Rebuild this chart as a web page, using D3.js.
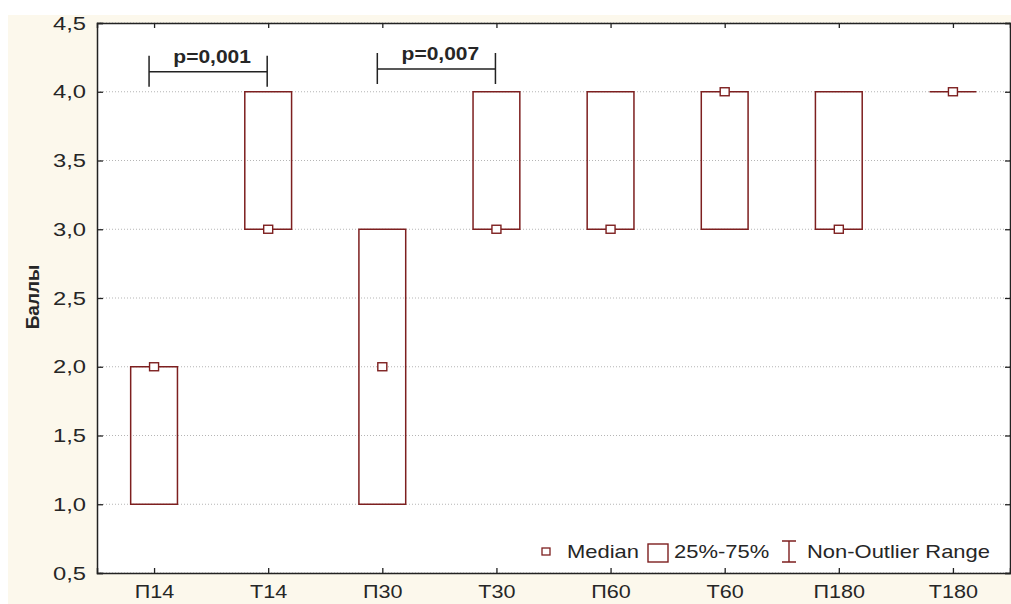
<!DOCTYPE html>
<html>
<head>
<meta charset="utf-8">
<script src="https://d3js.org/d3.v7.min.js"></script>
<style>
  body { margin: 0; background: #fff; }
  svg { display: block; }
  text { font-family: "Liberation Sans", Arial, sans-serif; fill: #262626; }
</style>
</head>
<body>
<div id="chart"></div>
<script>
// data
var categories = ["П14", "Т14", "П30", "Т30", "П60", "Т60", "П180", "Т180"];
var q1Values = [1, 3, 1, 3, 3, 3, 3, 4];
var q3Values = [2, 4, 3, 4, 4, 4, 4, 4];
var medianValues = [2, 3, 2, 3, 3, 4, 3, 4];
var yTicks = [0.5, 1.0, 1.5, 2.0, 2.5, 3.0, 3.5, 4.0, 4.5];
var comparisons = [
  { from: "П14", to: "Т14", label: "p=0,001", level: 4.145 },
  { from: "П30", to: "Т30", label: "p=0,007", level: 4.165 }
];
var legendItems = ["Median", "25%-75%", "Non-Outlier Range"];

window.onload = function() {
  drawChart();
};

function drawChart() {
  var width = 1011;
  var height = 604;
  var margin = { top: 23, right: 1, bottom: 31, left: 97 };
  var boxColor = "#7d1f1f";
  var stretch = 1.2;

  var svg = d3.select("#chart")
              .append("svg")
              .attr("width", width)
              .attr("height", height);

  // cream background and white plot area
  svg.append("rect")
     .attr("x", 8).attr("y", 15)
     .attr("width", width - 8).attr("height", height - 15)
     .attr("fill", "#fcf8ec");

  var x = d3.scalePoint()
            .domain(categories)
            .range([margin.left, width - margin.right])
            .padding(0.5);
  var y = d3.scaleLinear()
            .domain([0.5, 4.5])
            .range([height - margin.bottom, margin.top]);

  svg.append("rect")
     .attr("x", margin.left).attr("y", margin.top)
     .attr("width", width - margin.right - margin.left)
     .attr("height", height - margin.bottom - margin.top)
     .attr("fill", "#fff");

  var locale = d3.formatLocale({ decimal: ",", thousands: " ", grouping: [3], currency: ["", ""] });
  var fmt = locale.format(".1f");

  // dotted grid
  svg.append("g")
     .selectAll("line")
     .data(yTicks)
     .enter()
     .append("line")
     .attr("x1", margin.left)
     .attr("x2", width - margin.right)
     .attr("y1", function(d) { return y(d); })
     .attr("y2", function(d) { return y(d); })
     .attr("stroke", "#b5b5b5")
     .attr("stroke-width", 1)
     .attr("stroke-dasharray", "1,2");

  // axes
  var left = svg.append("g")
     .attr("transform", "translate(" + margin.left + ",0)")
     .call(d3.axisLeft(y).tickValues(yTicks).tickFormat(fmt).tickSize(-6));
  left.selectAll("text")
      .attr("x", 0)
      .attr("transform", "translate(-11,0) scale(1.25,1)")
      .style("font-size", "19px");

  var bottom = svg.append("g")
     .attr("transform", "translate(0," + (height - margin.bottom) + ")")
     .call(d3.axisBottom(x).tickSize(-5));
  bottom.selectAll("text")
        .attr("y", 12)
        .attr("transform", "scale(" + stretch + ",1)")
        .style("font-size", "18px");

  svg.append("g")
     .attr("transform", "translate(0," + margin.top + ")")
     .call(d3.axisTop(x).tickSize(-5).tickFormat(""));
  svg.append("g")
     .attr("transform", "translate(" + (width - margin.right) + ",0)")
     .call(d3.axisRight(y).tickValues(yTicks).tickSize(-5).tickFormat(""));

  svg.selectAll(".domain, .tick line")
     .attr("stroke", "#222")
     .attr("stroke-width", 1.5);
  svg.selectAll(".tick line").attr("stroke-width", 1.3);

  // boxes (drawn as paths so a zero-height box still shows as a line)
  var boxWidth = x.step() * 0.41;
  var rows = categories.map(function(c, i) {
    return { cat: c, q1: q1Values[i], q3: q3Values[i], med: medianValues[i] };
  });

  svg.append("g")
     .selectAll("path")
     .data(rows)
     .enter()
     .append("path")
     .attr("d", function(d) {
       var x0 = x(d.cat) - boxWidth / 2, x1 = x(d.cat) + boxWidth / 2;
       return "M" + x0 + "," + y(d.q3) + "H" + x1 + "V" + y(d.q1) + "H" + x0 + "Z";
     })
     .attr("fill", "none")
     .attr("stroke", boxColor)
     .attr("stroke-width", 1.5);

  svg.append("g")
     .selectAll("rect")
     .data(rows)
     .enter()
     .append("rect")
     .attr("x", function(d) { return x(d.cat) - 4.5; })
     .attr("y", function(d) { return y(d.med) - 4; })
     .attr("width", 9)
     .attr("height", 8)
     .attr("fill", "#fff")
     .attr("stroke", boxColor)
     .attr("stroke-width", 1.4);

  // significance brackets
  var br = svg.append("g").selectAll("g")
     .data(comparisons)
     .enter()
     .append("g");
  br.append("path")
    .attr("d", function(d) {
      var x1 = x(d.from) - 5, x2 = x(d.to) - 1, yy = y(d.level);
      return "M" + x1 + "," + (yy - 16) + "V" + (yy + 15) +
             "M" + x1 + "," + yy + "H" + x2 +
             "M" + x2 + "," + (yy - 16) + "V" + (yy + 15);
    })
    .attr("fill", "none")
    .attr("stroke", "#222")
    .attr("stroke-width", 1.5);
  br.append("text")
    .attr("transform", function(d) {
      var cx = (x(d.from) + x(d.to)) / 2 + 1;
      return "translate(" + cx + "," + (y(d.level) - 9) + ") scale(" + stretch + ",1)";
    })
    .attr("text-anchor", "middle")
    .style("font-size", "17.5px")
    .style("font-weight", "bold")
    .text(function(d) { return d.label; });

  // legend
  var lg = svg.append("g").attr("transform", "translate(0,552)");
  lg.append("rect")
    .attr("x", 542).attr("y", -4).attr("width", 8).attr("height", 7)
    .attr("fill", "#fff").attr("stroke", boxColor).attr("stroke-width", 1.3);
  lg.append("rect")
    .attr("x", 648).attr("y", -8).attr("width", 20).attr("height", 18)
    .attr("fill", "#fff").attr("stroke", boxColor).attr("stroke-width", 1.4);
  lg.append("path")
    .attr("d", "M782,-11H796M789,-11V10M782,10H796")
    .attr("fill", "none").attr("stroke", boxColor).attr("stroke-width", 1.4);
  var legendX = [567, 674, 807];
  lg.selectAll("text")
    .data(legendItems)
    .enter()
    .append("text")
    .attr("transform", function(d, i) {
      return "translate(" + legendX[i] + ",6) scale(1.22,1)";
    })
    .style("font-size", "18px")
    .text(function(d) { return d; });

  // y axis title
  svg.append("text")
     .attr("transform", "translate(39,297) rotate(-90)")
     .attr("text-anchor", "middle")
     .style("font-size", "19px")
     .style("font-weight", "bold")
     .text("Баллы");
}
</script>
</body>
</html>
